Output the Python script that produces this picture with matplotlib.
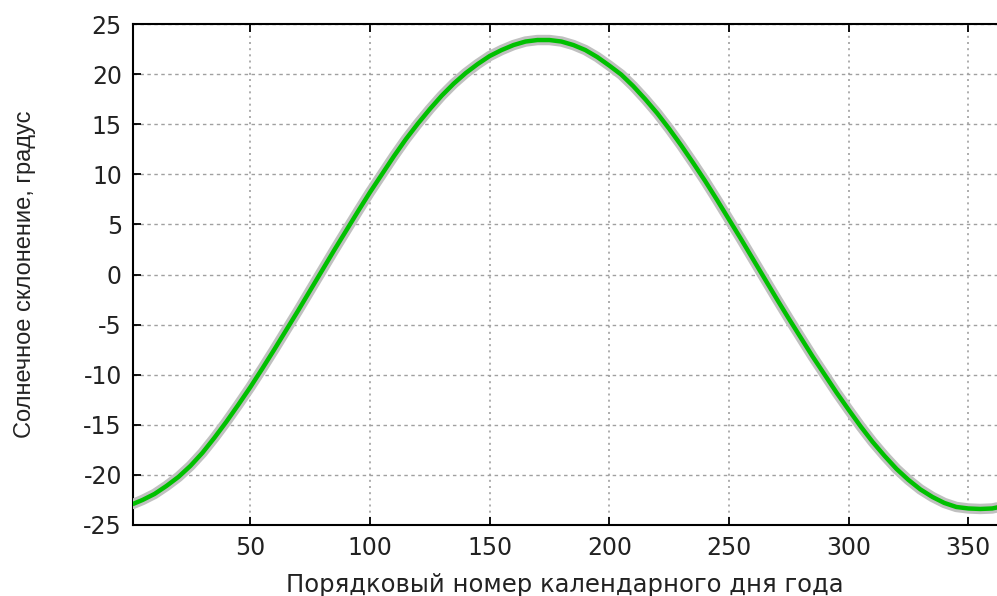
import numpy as np
import matplotlib
matplotlib.use("Agg")
import matplotlib.pyplot as plt

plt.rcParams["axes.unicode_minus"] = False

# day of year and solar declination (deg)
days = [1, 5, 10, 15, 20, 25, 30, 35, 40, 45, 50, 55, 60, 65, 70, 75, 80,
        85, 90, 95, 100, 105, 110, 115, 120, 125, 130, 135, 140, 145, 150,
        155, 160, 165, 170, 175, 180, 185, 190, 195, 200, 205, 210, 215,
        220, 225, 230, 235, 240, 245, 250, 255, 260, 265, 270, 275, 280,
        285, 290, 295, 300, 305, 310, 315, 320, 325, 330, 335, 340, 345,
        350, 355, 360, 362]
decl = [-22.9, -22.5, -21.9, -21.1, -20.2, -19.1, -17.8, -16.3, -14.7,
        -13.0, -11.25, -9.4, -7.5, -5.55, -3.6, -1.6, 0.4, 2.4, 4.35, 6.3,
        8.2, 10.0, 11.8, 13.5, 15.05, 16.5, 17.85, 19.05, 20.1, 21.0, 21.8,
        22.4, 22.9, 23.25, 23.4, 23.4, 23.25, 22.9, 22.4, 21.7, 20.85,
        19.95, 18.8, 17.5, 16.1, 14.55, 12.9, 11.15, 9.35, 7.45, 5.5,
        3.55, 1.55, -0.45, -2.45, -4.4, -6.3, -8.2, -10.0, -11.8, -13.5,
        -15.15, -16.7, -18.1, -19.4, -20.5, -21.45, -22.2, -22.8, -23.2,
        -23.35, -23.4, -23.35, -23.25]

xticks = [50, 100, 150, 200, 250, 300, 350]
yticks = [-25, -20, -15, -10, -5, 0, 5, 10, 15, 20, 25]

fig = plt.figure(figsize=(9.97, 5.96), dpi=100)
ax = fig.add_axes([133/997, 1 - 525/596, 1 - 133/997, (525 - 24)/596])

ax.plot(days, decl, color="#c0c0c0", lw=7.5, solid_capstyle="round", zorder=3)
ax.plot(days, decl, color="#00c000", lw=3.2, zorder=4)

ax.set_xlim(1, 362)
ax.set_ylim(-25, 25)
ax.set_xticks(xticks)
ax.set_yticks(yticks)

# gnuplot-like grid: dotted verticals, dashed horizontals
ax.xaxis.grid(True, color="#a0a0a0", linestyle=(0, (1.2, 2.5)), lw=1.2)
ax.yaxis.grid(True, color="#a0a0a0", linestyle=(0, (2.5, 2.5)), lw=1.0)
ax.set_axisbelow(True)

ax.spines["right"].set_visible(False)
for s in ["left", "bottom", "top"]:
    ax.spines[s].set_linewidth(1.5)
    ax.spines[s].set_color("black")

ax.tick_params(direction="in", length=6, width=1.3, top=True, right=False,
               labelsize=17, labelcolor="#222222", pad=8)

ax.set_xlabel("Порядковый номер календарного дня года", fontsize=17.5,
              color="#222222", labelpad=9)
ax.set_ylabel("Солнечное склонение, градус", fontsize=17, color="#222222",
              family=["Liberation Sans Narrow", "Liberation Sans"])
ax.yaxis.set_label_coords(-0.112, 0.5)

plt.savefig("out.png", dpi=100)
